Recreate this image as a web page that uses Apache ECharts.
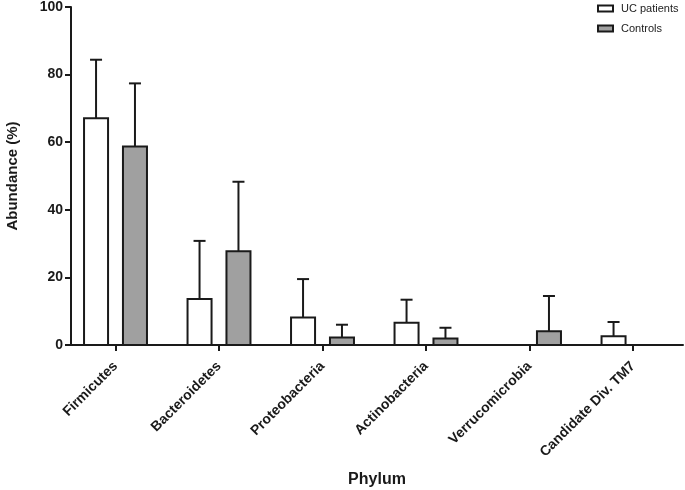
<!DOCTYPE html>
<html>
<head>
<meta charset="utf-8">
<script src="https://cdn.jsdelivr.net/npm/echarts@6/dist/echarts.min.js"></script>
<style>html,body{margin:0;padding:0;background:#fff}#c{width:685px;height:490px}</style>
</head>
<body>
<div id="c"></div>
<script>
var categories = ['Firmicutes', 'Bacteroidetes', 'Proteobacteria', 'Actinobacteria', 'Verrucomicrobia', 'Candidate Div. TM7'];
var ucMean = [67.1, 13.6, 8.1, 6.6, 0, 2.6];
var ucSD = [17.3, 17.2, 11.4, 6.8, 0, 4.2];
var ctrlMean = [58.7, 27.7, 2.2, 1.9, 4.1, 0];
var ctrlSD = [18.7, 20.6, 3.8, 3.2, 10.4, 0];
var yTicks = [0, 20, 40, 60, 80, 100];

var FONT = '"Liberation Sans", Arial, sans-serif';
var INK = '#1a1a1a';
var GRAY = '#a0a0a0';

function makeData(means, sds) {
  return categories.map(function (c, i) { return [i, means[i], sds[i]]; });
}

function renderer(side, fill) {
  return function (params, api) {
    var idx = api.value(0), mean = api.value(1), sd = api.value(2);
    if (!(mean > 0)) return null;
    var unit = api.size([1, 0])[0];
    var bw = unit * 0.232;
    var off = unit * 0.188 * side;
    var base = api.coord([idx, 0]);
    var top = api.coord([idx, mean]);
    var errTop = api.coord([idx, mean + sd]);
    var cx = base[0] + off;
    var cap = unit * 0.058;
    var children = [];
    if (sd > 0) {
      children.push({type: 'line', shape: {x1: cx, y1: top[1], x2: cx, y2: errTop[1]}, style: {stroke: INK, lineWidth: 2}});
      children.push({type: 'line', shape: {x1: cx - cap, y1: errTop[1], x2: cx + cap, y2: errTop[1]}, style: {stroke: INK, lineWidth: 2}});
    }
    children.push({type: 'rect', shape: {x: cx - bw / 2, y: top[1], width: bw, height: base[1] - top[1]}, style: {fill: fill, stroke: INK, lineWidth: 2}});
    return {type: 'group', children: children};
  };
}

var chart = echarts.init(document.getElementById('c'), null, {renderer: 'canvas'});
chart.setOption({
  animation: false,
  backgroundColor: '#fff',
  grid: {left: 71, right: 2, top: 7, bottom: 145, containLabel: false, outerBoundsMode: 'none'},
  legend: {
    orient: 'vertical', left: 597, top: 3, padding: 0, itemWidth: 15, itemHeight: 6, itemGap: 9,
    textStyle: {fontFamily: FONT, fontSize: 11, color: '#222', padding: [0, 0, 0, 3]},
    data: [
      {name: 'UC patients', icon: 'rect', itemStyle: {color: '#fff', borderColor: INK, borderWidth: 2}},
      {name: 'Controls', icon: 'rect', itemStyle: {color: GRAY, borderColor: INK, borderWidth: 2}}
    ]
  },
  xAxis: {
    type: 'value', min: -0.43, max: 5.483,
    name: 'Phylum', nameLocation: 'middle', nameGap: 127,
    nameTextStyle: {fontFamily: FONT, fontSize: 16, fontWeight: 'bold', color: INK},
    splitLine: {show: false},
    axisLine: {show: true, onZero: false, lineStyle: {color: INK, width: 2}},
    axisTick: {show: true, length: 6, lineStyle: {color: INK, width: 2}, customValues: [0, 1, 2, 3, 4, 5]},
    axisLabel: {
      customValues: [0, 1, 2, 3, 4, 5], rotate: 45, margin: 19,
      fontFamily: FONT, fontSize: 14, fontWeight: 'bold', color: INK,
      formatter: function (v) { return categories[Math.round(v)]; }
    }
  },
  yAxis: {
    type: 'value', min: 0, max: 100, interval: 20,
    name: 'Abundance (%)', nameLocation: 'middle', nameGap: 51,
    nameTextStyle: {fontFamily: FONT, fontSize: 15, fontWeight: 'bold', color: INK},
    splitLine: {show: false},
    axisLine: {show: true, onZero: false, lineStyle: {color: INK, width: 2}},
    axisTick: {show: true, length: 6, lineStyle: {color: INK, width: 2}},
    axisLabel: {margin: 8, fontFamily: FONT, fontSize: 14, fontWeight: 'bold', color: INK,
      formatter: function (v) { return yTicks.indexOf(v) >= 0 ? String(v) : ''; }}
  },
  series: [
    {name: 'UC patients', type: 'custom', data: makeData(ucMean, ucSD), encode: {x: 0, y: 1},
     itemStyle: {color: '#fff', borderColor: INK}, renderItem: renderer(-1, '#fff'), clip: false},
    {name: 'Controls', type: 'custom', data: makeData(ctrlMean, ctrlSD), encode: {x: 0, y: 1},
     itemStyle: {color: GRAY, borderColor: INK}, renderItem: renderer(1, GRAY), clip: false}
  ]
});
</script>
</body>
</html>
